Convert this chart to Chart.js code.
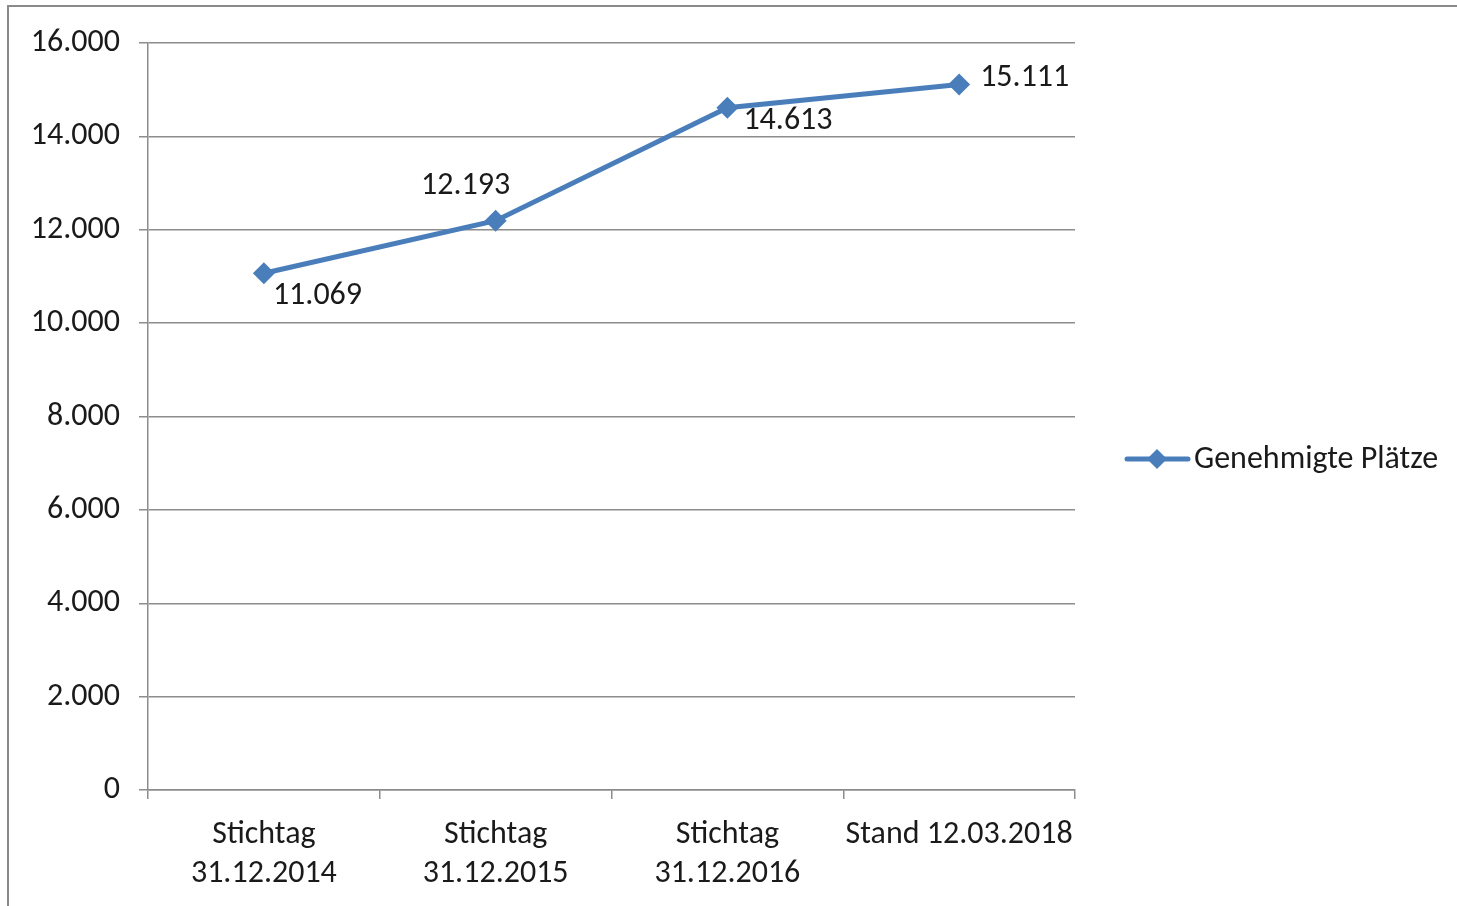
<!DOCTYPE html>
<html lang="de">
<head>
<meta charset="utf-8">
<title>Genehmigte Plätze</title>
<script src="https://cdn.jsdelivr.net/npm/chart.js@4.4.1/dist/chart.umd.min.js"></script>
<style>
  html, body { margin: 0; padding: 0; background: #fff; }
  #wrap { position: relative; width: 1457px; height: 906px; overflow: hidden; }
  #frame { position: absolute; left: 7px; top: 5px; right: -10px; bottom: -10px;
           border-left: 2px solid #8a8a8a; border-top: 2px solid #8a8a8a; }
  canvas { position: absolute; left: 0; top: 0; }
</style>
</head>
<body>
<div id="wrap">
  <div id="frame"></div>
  <canvas id="chart" width="1457" height="906"></canvas>
</div>
<script>
const FONT = "Carlito, Calibri, Lato, 'Open Sans', sans-serif";
const FS = 32;

// Daten
const kategorien = [
  ['Stichtag', '31.12.2014'],
  ['Stichtag', '31.12.2015'],
  ['Stichtag', '31.12.2016'],
  'Stand 12.03.2018'
];
const plaetze = [11069, 12193, 14613, 15111];
const serienName = 'Genehmigte Plätze';
const yTicks = [0, 2000, 4000, 6000, 8000, 10000, 12000, 14000, 16000];
// Lage der Beschriftung relativ zum Punkt
const labelPos = ['below', 'above', 'below', 'right'];

const BLAU = '#4a7ebb';

function deZahl(v) {
  return String(Math.round(v)).replace(/\B(?=(\d{3})+(?!\d))/g, '.');
}

// Werte an die Punkte schreiben + Legende rechts
const beschriftung = {
  id: 'beschriftung',
  afterDatasetsDraw(chart) {
    const ctx = chart.ctx;
    const meta = chart.getDatasetMeta(0);
    ctx.save();
    ctx.font = FS + 'px ' + FONT;
    ctx.fillStyle = '#1a1a1a';
    ctx.textBaseline = 'middle';
    meta.data.forEach((pt, i) => {
      const txt = deZahl(plaetze[i]);
      const pos = labelPos[i];
      if (pos === 'below') {
        ctx.textAlign = 'left';
        if (i === 0) ctx.fillText(txt, pt.x + 9, pt.y + 23);
        else ctx.fillText(txt, pt.x + 16, pt.y + 13);
      } else if (pos === 'above') {
        ctx.textAlign = 'center';
        ctx.fillText(txt, pt.x - 30, pt.y - 35);
      } else {
        ctx.textAlign = 'left';
        ctx.fillText(txt, pt.x + 21, pt.y - 7);
      }
    });

    // Legende
    const ly = 459;
    ctx.strokeStyle = BLAU;
    ctx.lineWidth = 5;
    ctx.lineCap = 'round';
    ctx.beginPath();
    ctx.moveTo(1127, ly);
    ctx.lineTo(1188, ly);
    ctx.stroke();
    ctx.fillStyle = BLAU;
    ctx.beginPath();
    ctx.moveTo(1157, ly - 10);
    ctx.lineTo(1167, ly);
    ctx.lineTo(1157, ly + 10);
    ctx.lineTo(1147, ly);
    ctx.closePath();
    ctx.fill();
    ctx.fillStyle = '#1a1a1a';
    ctx.textAlign = 'left';
    ctx.fillText(serienName, 1194, ly + 1);
    ctx.restore();
  }
};

new Chart(document.getElementById('chart'), {
  type: 'line',
  data: {
    labels: kategorien,
    datasets: [{
      label: serienName,
      data: plaetze,
      borderColor: BLAU,
      backgroundColor: BLAU,
      borderWidth: 5,
      pointStyle: 'rectRot',
      pointRadius: 11,
      pointHoverRadius: 11,
      pointBorderWidth: 0,
      tension: 0,
      fill: false
    }]
  },
  options: {
    responsive: false,
    animation: false,
    events: [],
    layout: { padding: { top: 43, right: 382, bottom: 0, left: 0 } },
    plugins: {
      legend: { display: false },
      tooltip: { enabled: false }
    },
    scales: {
      x: {
        offset: true,
        grid: {
          offset: true,
          drawOnChartArea: false,
          drawTicks: true,
          tickLength: 9,
          color: '#8c8c8c',
          lineWidth: 1.5
        },
        border: { display: true, color: '#8c8c8c', width: 1.5 },
        ticks: {
          color: '#1a1a1a',
          font: { family: FONT, size: FS, lineHeight: 1.2 },
          padding: 17,
          maxRotation: 0,
          autoSkip: false
        },
        afterFit(scale) { scale.height = 116; }
      },
      y: {
        min: 0,
        max: 16000,
        afterBuildTicks(scale) { scale.ticks = yTicks.map(v => ({ value: v })); },
        grid: {
          color: '#8c8c8c',
          lineWidth: 1.5,
          drawTicks: true,
          tickLength: 9
        },
        border: { display: true, color: '#8c8c8c', width: 1.5 },
        ticks: {
          color: '#1a1a1a',
          font: { family: FONT, size: FS },
          padding: 19,
          callback: v => deZahl(v)
        },
        afterFit(scale) { scale.width = 148; }
      }
    }
  },
  plugins: [beschriftung]
});
</script>
</body>
</html>
